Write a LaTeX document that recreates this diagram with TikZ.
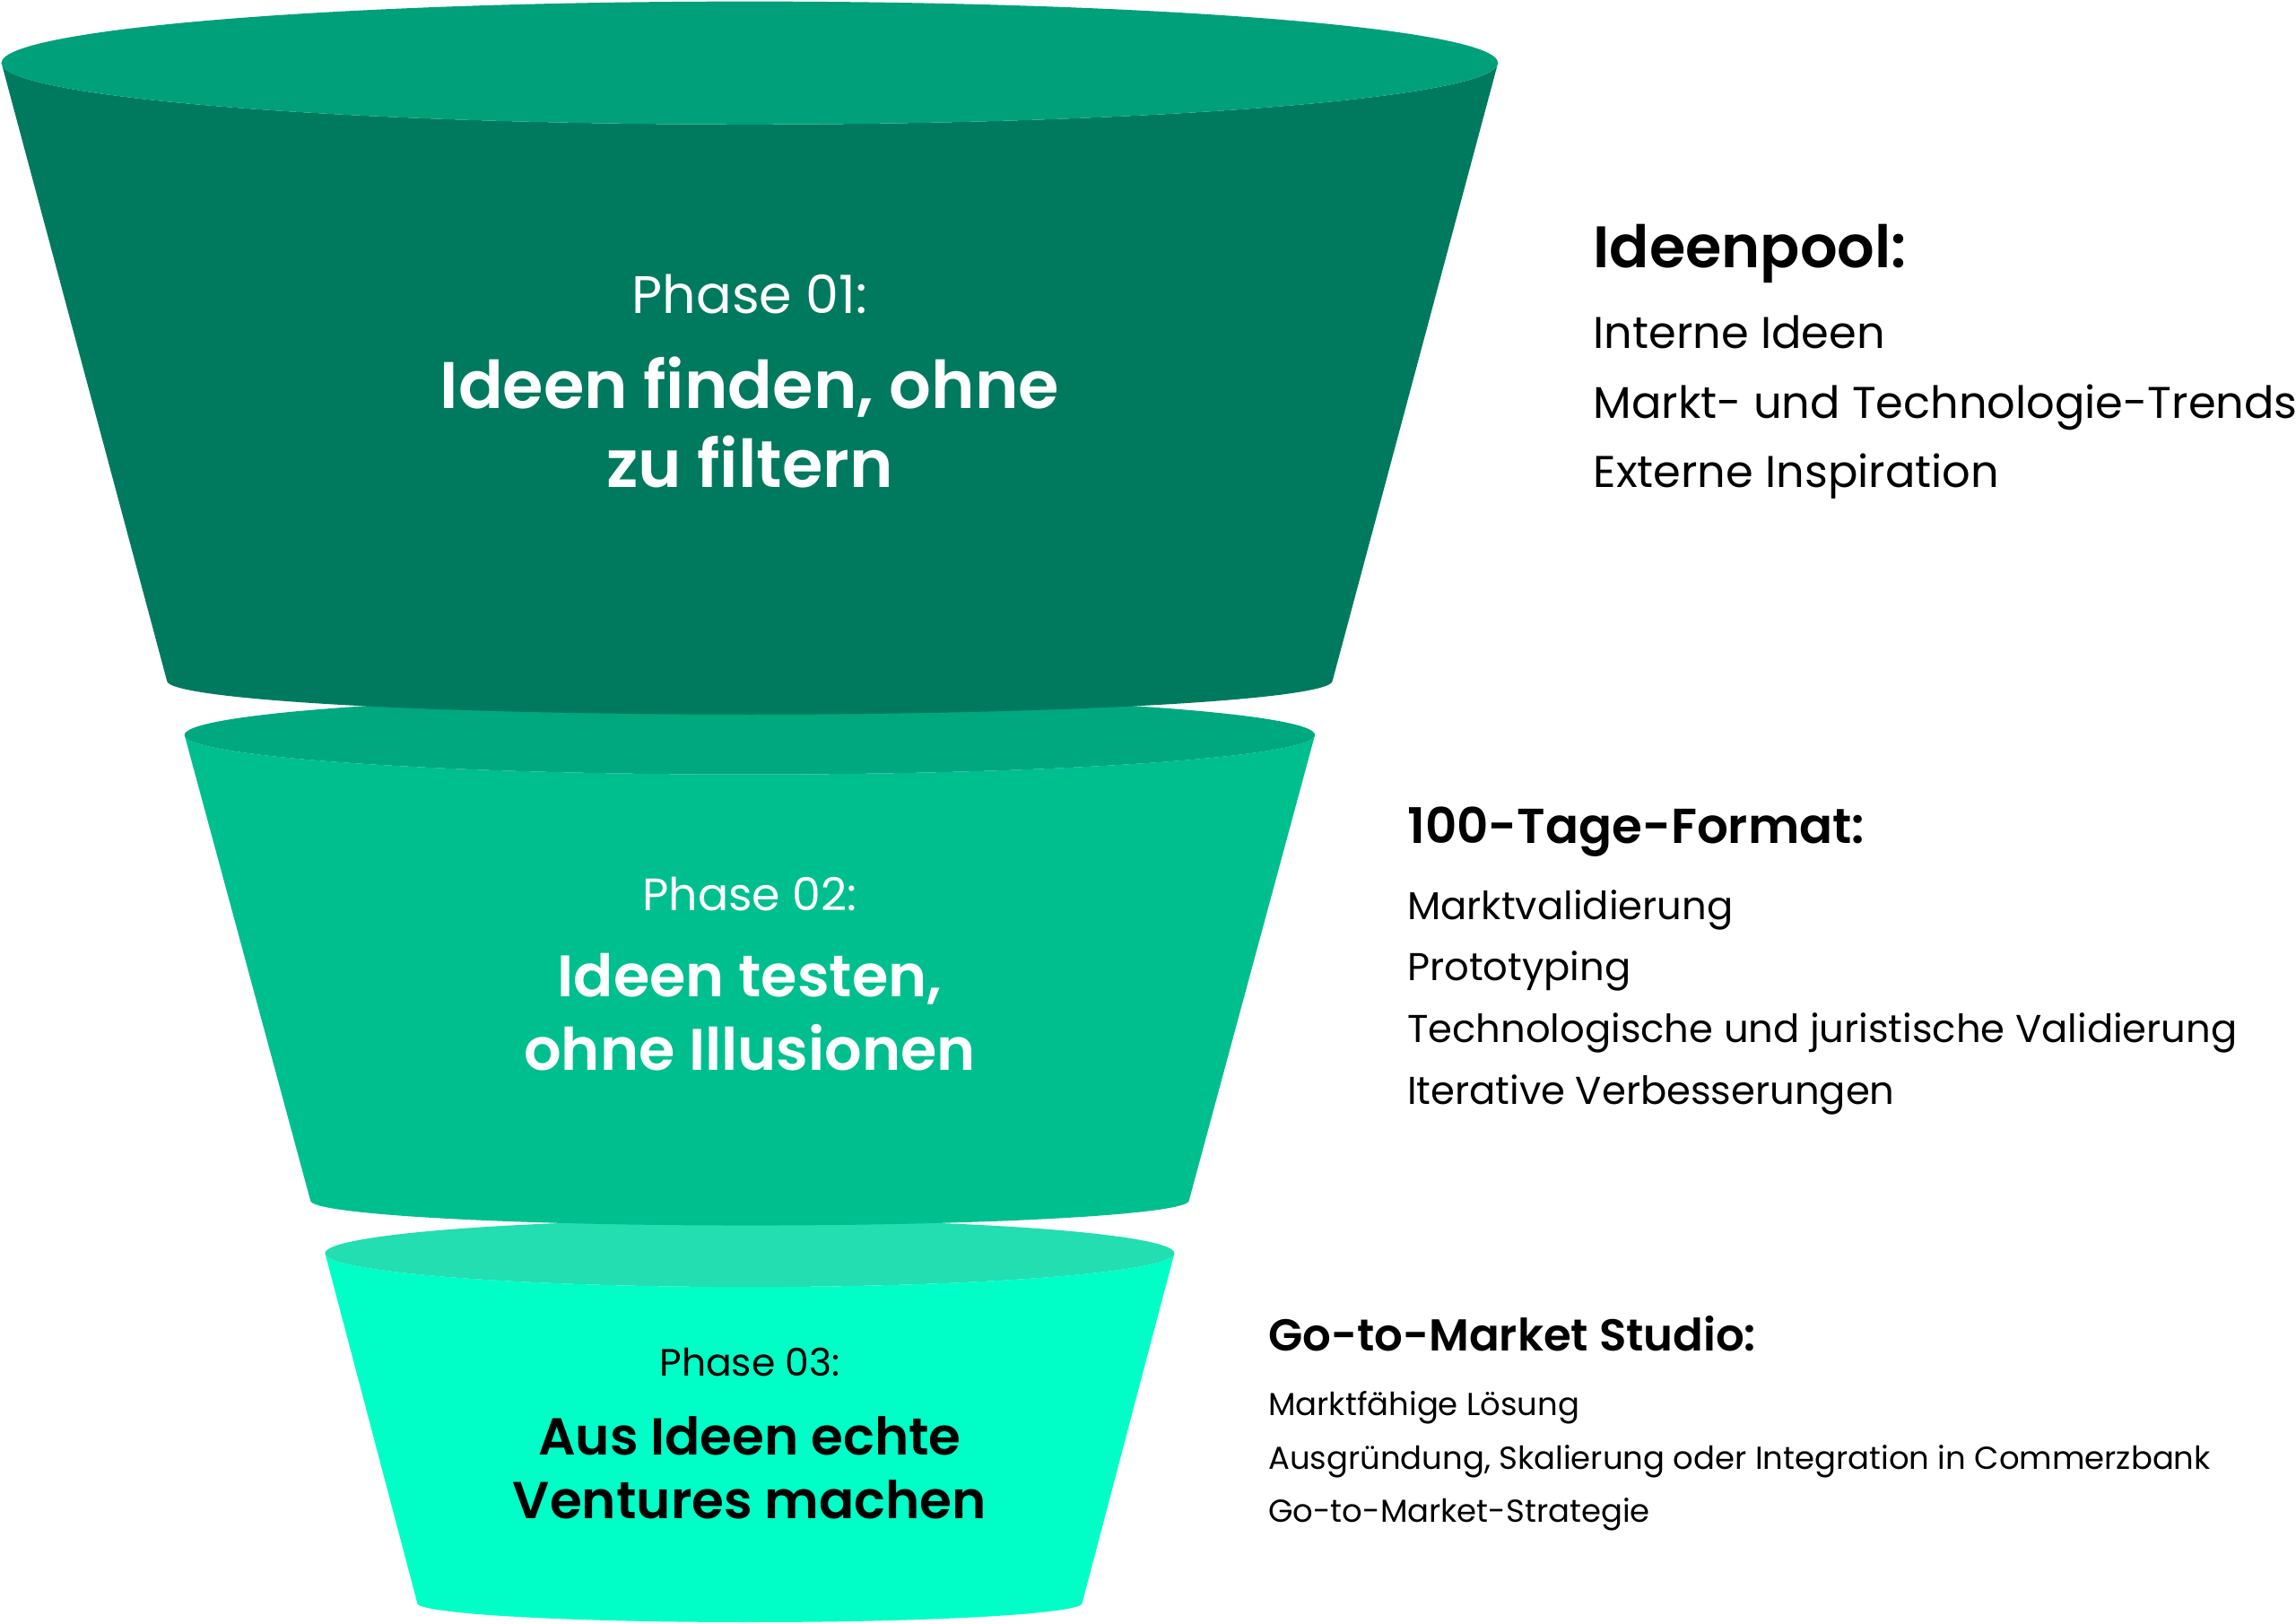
\documentclass[tikz,border=0pt]{standalone}
\usepackage{fontspec}
\setmainfont{Poppins}[BoldFont={Poppins SemiBold}]
\usetikzlibrary{positioning}

\definecolor{oneBody}{HTML}{007A5E}
\definecolor{oneTop}{HTML}{00A07A}
\definecolor{twoBody}{HTML}{00BF8F}
\definecolor{twoTop}{HTML}{00A880}
\definecolor{threeBody}{HTML}{00FFC6}
\definecolor{threeTop}{HTML}{22DEB0}

\begin{document}
\begin{tikzpicture}[x=1pt,y=-1pt,inner sep=0pt,
 phase label/.style={anchor=base,font=\fontsize{#1}{#1}\selectfont},
 phase title/.style={anchor=base,font=\fontsize{#1}{#1}\selectfont\bfseries},
 pool head/.style={anchor=base west,font=\fontsize{#1}{#1}\selectfont\bfseries},
 pool item/.style={anchor=base west,font=\fontsize{#1}{#1}\selectfont}]
 \useasboundingbox (0,0) rectangle (1568,1109);

  % funnel rings, lowest first
  \foreach \yt/\rt/\ryt/\yb/\rb/\ryb/\cb/\ct in {
    856/290/23/1095/227/13/threeBody/threeTop,
    502/386/27/820/300/17/twoBody/twoTop,
    43/511/42/465/398/23/oneBody/oneTop} {
   \fill[\cb] (512-\rt,\yt) -- (512-\rb,\yb)
     arc[start angle=180,end angle=0,x radius=\rb,y radius=\ryb]
     -- (512+\rt,\yt)
     arc[start angle=0,end angle=180,x radius=\rt,y radius=\ryt] -- cycle;
   \fill[\ct] (512,\yt) ellipse[x radius=\rt,y radius=\ryt];}

  % phase texts
  \node[phase label=36,white] (p1) at (512,214) {Phase 01:};
  \node[phase title=45,white] (t1a) at (512,279) {Ideen finden, ohne};
  \node[phase title=45,white] (t1b) at (512,333) {zu filtern};
  \node[phase label=31,white] (p2) at (512,622) {Phase 02:};
  \node[phase title=40,white] (t2a) at (512,681) {Ideen testen,};
  \node[phase title=40,white] (t2b) at (512,731) {ohne Illusionen};
  \node[phase label=26,black] (p3) at (512,940) {Phase 03:};
  \node[phase title=35.5,black] (t3a) at (512,994) {Aus Ideen echte};
  \node[phase title=35.5,black] (t3b) at (512,1037) {Ventures machen};

  % side lists
  \node[pool head=40] (h1) at (1088,183) {Ideenpool:};
  \foreach \txt [count=\i] in {Interne Ideen,
    Markt- und Technologie-Trends, Externe Inspiration}
   \node[pool item=30.3] (a\i) at (1088,190.5+47.5*\i) {\txt};

  \node[pool head=33.5] (h2) at (961,576) {100-Tage-Format:};
  \foreach \txt [count=\i] in {Marktvalidierung, Prototyping,
    Technologische und juristische Validierung, Iterative Verbesserungen}
   \node[pool item=26.5] (b\i) at (961,586+42*\i) {\txt};

  \node[pool head=30.5] (h3) at (866,923) {Go-to-Market Studio:};
  \foreach \txt [count=\i] in {Marktfähige Lösung,
    {Ausgründung, Skalierung oder Integration in Commerzbank},
    Go-to-Market-Strategie}
   \node[pool item=21.7] (c\i) at (866,930.5+36.5*\i) {\txt};
\end{tikzpicture}
\end{document}
